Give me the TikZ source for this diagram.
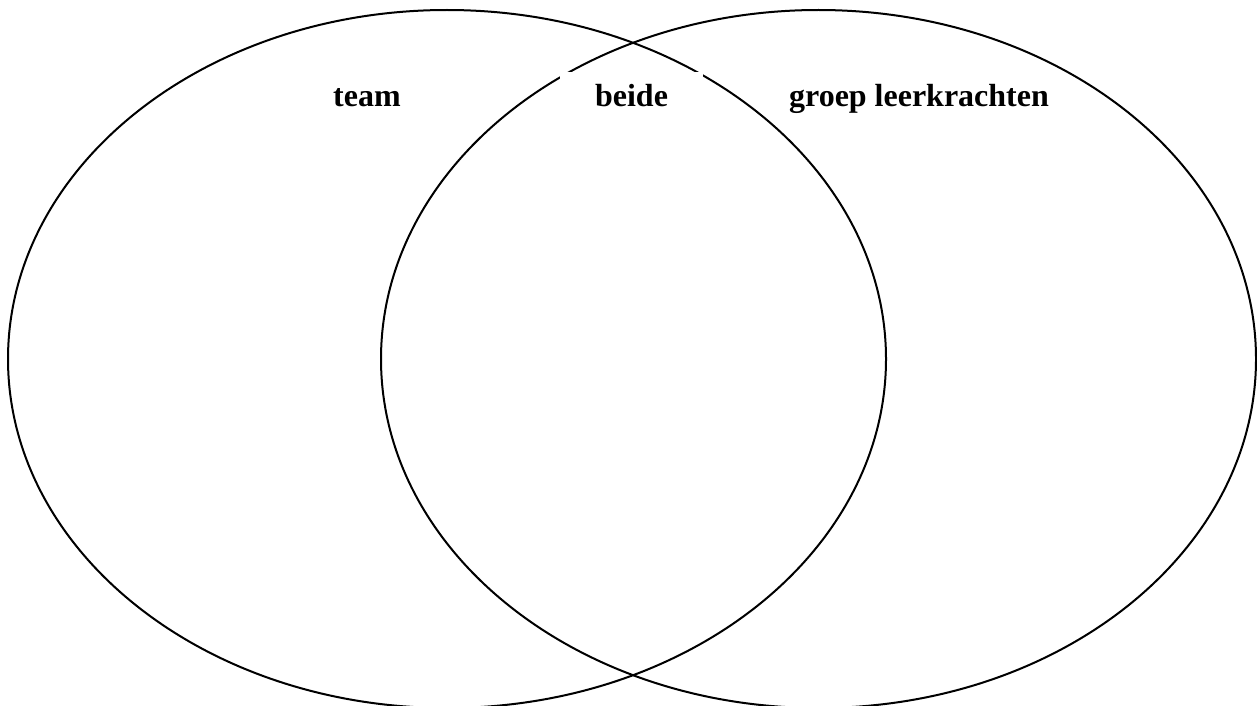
\documentclass[tikz,border=0pt]{standalone}
\usepackage{fontspec}
\setmainfont{Liberation Serif}
\usetikzlibrary{shapes.geometric}

\begin{document}
\begin{tikzpicture}[x=0.5pt, y=-0.5pt, font=\fontsize{16}{19}\selectfont\bfseries]
		\tikzset{set/.style={draw, ellipse, line width=1pt, inner sep=0pt},
			lbl/.style={anchor=base, inner sep=0pt}}
		\def\Cy{359}   % centre height of both sets
		\def\By{106}   % baseline of the labels
		\useasboundingbox (0,0) rectangle (1257,706);
		% the two sets
		\node[set, minimum width=439pt, minimum height=349pt] (team) at (447,\Cy) {};
		\node[set, minimum width=437.5pt, minimum height=349pt] (groep) at (818.5,\Cy) {};
		% labels
		\node[lbl] (lteam) at (367,\By) {team};
		\node[lbl, fill=white, text height=17pt, text depth=13pt, minimum width=71.5pt] (lbeide) at (631.5,\By) {beide};
		\node[lbl] (lgroep) at (919,\By) {groep leerkrachten};
	\end{tikzpicture}
\end{document}
